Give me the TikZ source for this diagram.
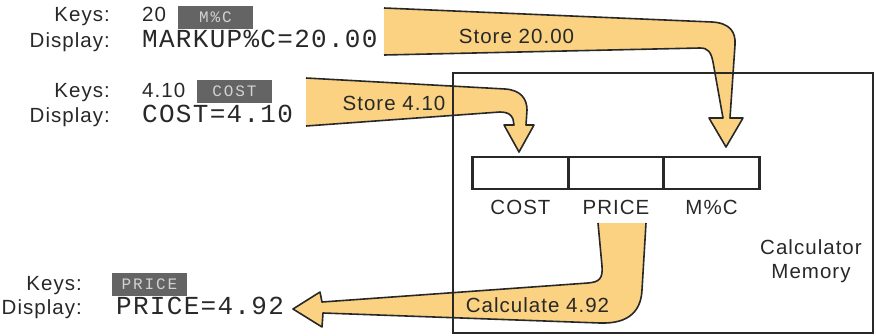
\documentclass[tikz,border=0pt]{standalone}
\usepackage{fontspec}
\setmainfont{Liberation Sans}
\newfontfamily\labelfont[LetterSpace=5]{Liberation Sans}
\newfontfamily\calcfont[LetterSpace=5]{Liberation Mono}
\newfontfamily\keyfont[LetterSpace=12]{Liberation Mono}
\definecolor{arrowfill}{RGB}{250, 210, 130}
\definecolor{inkgray}{RGB}{40, 40, 40}
\definecolor{keygray}{RGB}{100, 100, 100}
\definecolor{keytext}{RGB}{210, 210, 210}
\usetikzlibrary{positioning}

% outlines of the fat arrows, open at the tail end
\def\pathstoretwenty{(384,55) -- (700,48) .. controls (708,48) and (711,52) .. (713,62) -- (723,118) -- (709,118) -- (726,147) -- (743,118) -- (730,118) -- (735,45) .. controls (736,32) and (730,23) .. (712,22) -- (384,8)}
\def\pathstorefour{(306,126) -- (500,112) .. controls (507,112) and (511,114) .. (513,119) -- (514,125) -- (504,125) -- (519,152) -- (534,125) -- (526,125) -- (527,110) .. controls (527,99) and (521,90) .. (505,89) -- (306,78)}
\def\pathcalc{(598,223) -- (602,266) .. controls (603,279) and (599,282) .. (588,283) -- (322,302) -- (320,292) -- (293,309) -- (322,327) -- (323,313) -- (600,323) .. controls (630,324) and (641,310) .. (642,290) -- (646,223)}

\begin{document}
\begin{tikzpicture}[x=1pt, y=-1pt,
  lbl/.style={font=\labelfont\fontsize{20.5}{24}\selectfont, text=inkgray, inner sep=0pt},
  disp/.style={font=\calcfont\fontsize{26}{30}\selectfont, text=inkgray, inner sep=0pt},
  keycap/.style={fill=keygray, text=keytext, font=\keyfont\fontsize{16}{18}\selectfont, minimum width=75, minimum height=23, inner sep=0pt},
  cell/.style={draw=inkgray, line width=2.6, minimum width=95.5, minimum height=32, inner sep=0pt, outer sep=0pt},
  outline/.style={draw=inkgray, line width=1.6, line join=round}]
  \useasboundingbox (0,0) rectangle (876,335);

  % Arrows (drawn first, the memory box lies over them)
  \fill[arrowfill] \pathstoretwenty -- cycle;
  \draw[outline] \pathstoretwenty;
  \fill[arrowfill] \pathstorefour -- cycle;
  \draw[outline] \pathstorefour;
  \fill[arrowfill] \pathcalc -- cycle;
  \draw[outline] \pathcalc;

  \node[lbl, anchor=base] (storeA) at (516.5, 43) {Store 20.00};
  \node[lbl, anchor=base] (storeB) at (394, 110) {Store 4.10};
  \node[lbl, anchor=base] (calcC) at (537.5, 312) {Calculate 4.92};

  % Calculator memory
  \node[draw=inkgray, line width=2.2, minimum width=420, minimum height=260, inner sep=0pt] (memory) at (663, 203) {};
  \node[cell] (regcost) at (520.5, 173) {};
  \node[cell, right=0pt of regcost] (regprice) {};
  \node[cell, right=0pt of regprice] (regmc) {};
  \node[lbl, below=11pt of regcost] (costlbl) {COST};
  \node[lbl, below=11pt of regprice] (pricelbl) {PRICE};
  \node[lbl, below=11pt of regmc] (mclbl) {M\%C};
  \node[lbl, anchor=north, align=center] (memlbl) at (811, 239) {Calculator\\Memory};

  % Step 1: markup
  \node[lbl, anchor=base east] (keysA) at (110, 21) {Keys:};
  \node[lbl, anchor=base west] (keyvalA) at (142, 21) {20};
  \node[keycap] (keycapA) at (215.5, 17.5) {M\%C};
  \node[lbl, anchor=base east] (dispA) at (110, 47) {Display:};
  \node[disp, anchor=base west] (dispvalA) at (142, 47) {MARKUP\%C=20.00};

  % Step 2: cost
  \node[lbl, anchor=base east] (keysB) at (110, 97) {Keys:};
  \node[lbl, anchor=base west] (keyvalB) at (142, 97) {4.10};
  \node[keycap] (keycapB) at (234.5, 91.5) {COST};
  \node[lbl, anchor=base east] (dispB) at (110, 122) {Display:};
  \node[disp, anchor=base west] (dispvalB) at (142, 122) {COST=4.10};

  % Step 3: price
  \node[lbl, anchor=base east] (keysC) at (82, 290) {Keys:};
  \node[keycap] (keycapC) at (149.5, 284) {PRICE};
  \node[lbl, anchor=base east] (dispC) at (82, 314) {Display:};
  \node[disp, anchor=base west] (dispvalC) at (116, 314) {PRICE=4.92};
\end{tikzpicture}
\end{document}
